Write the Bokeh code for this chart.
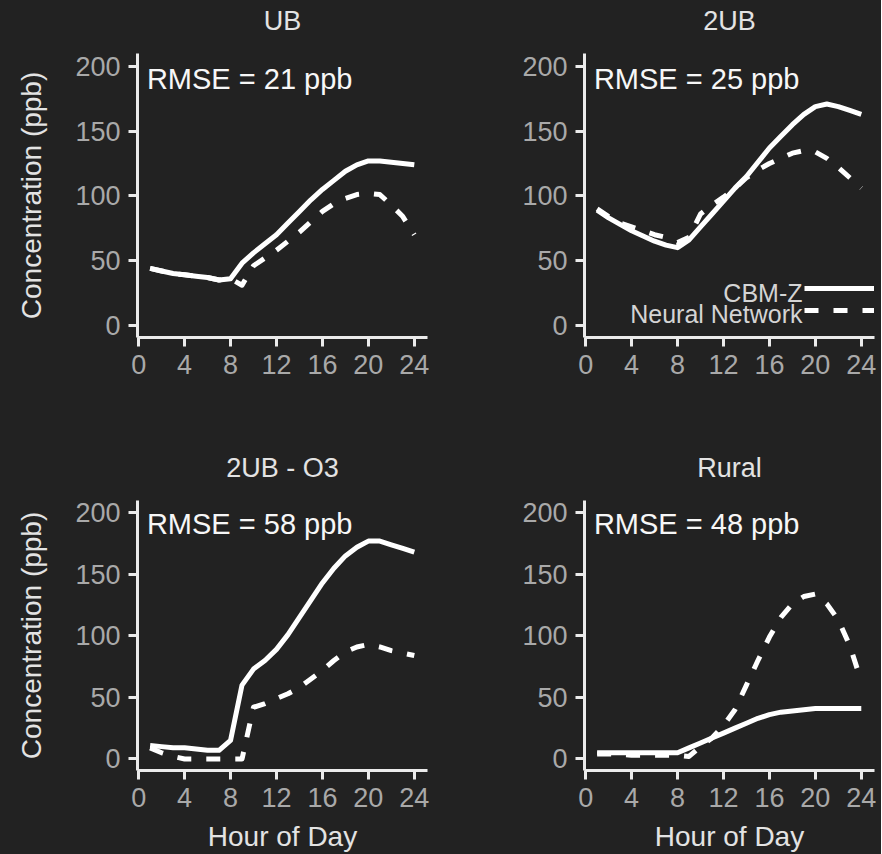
from bokeh.plotting import figure
from bokeh.layouts import column, row
from bokeh.models import FixedTicker, Label, Legend, LegendItem, LinearAxis, Range1d
from bokeh.embed import file_html
from bokeh.resources import INLINE

# ---------------- data ----------------
hours = list(range(1, 25))

panel_titles = ["UB", "2UB", "2UB - O3", "Rural"]
rmse_labels = ["RMSE = 21 ppb", "RMSE = 25 ppb", "RMSE = 58 ppb", "RMSE = 48 ppb"]
legend_labels = ["CBM-Z", "Neural Network"]
x_label = "Hour of Day"
y_label = "Concentration (ppb)"
x_ticks = [0, 4, 8, 12, 16, 20, 24]
y_ticks = [0, 50, 100, 150, 200]

ub_cbmz = [44, 42, 40, 39, 38, 37, 35, 36, 48, 56, 63, 70, 79, 88, 97, 105, 112, 119, 124, 127, 127, 126, 125, 124]
ub_nn = [44, 42, 40, 39, 38, 37, 35, 36, 31, 46, 52, 58, 65, 72, 80, 88, 94, 98, 101, 102, 101, 93, 84, 70]

ub2_cbmz = [89, 83, 78, 73, 69, 65, 62, 60, 66, 76, 86, 96, 106, 115, 126, 137, 146, 155, 163, 169, 171, 169, 166, 163]
ub2_nn = [90, 84, 79, 76, 73, 70, 68, 64, 68, 86, 93, 99, 106, 114, 120, 125, 129, 133, 135, 134, 129, 122, 114, 106]

ub2o3_cbmz = [11, 10, 9, 9, 8, 7, 7, 15, 60, 73, 80, 89, 101, 115, 129, 143, 155, 165, 172, 177, 177, 174, 171, 168]
ub2o3_nn = [9, 5, 2, 0, 0, 0, 0, 0, 0, 42, 45, 49, 53, 58, 65, 72, 80, 87, 91, 93, 91, 88, 86, 84]

rural_cbmz = [5, 5, 5, 5, 5, 5, 5, 5, 9, 13, 17, 21, 25, 29, 33, 36, 38, 39, 40, 41, 41, 41, 41, 41]
rural_nn = [4, 4, 4, 3, 3, 3, 3, 3, 2, 10, 17, 27, 40, 60, 80, 99, 115, 126, 132, 134, 126, 113, 92, 63]

# ---------------- style ----------------
BG = "#222222"
FONT = "Liberation Sans"
AXIS_COLOR = "#ebebeb"
TICK_LABEL_COLOR = "#a9a9a9"
TITLE_COLOR = "#e3e3e3"
LINE_COLOR = "#ffffff"
DASH = "14 15"


def make_panel(idx, cbmz, nn, width, height, border_left, border_right, border_bottom,
               text_shift, show_ylabel, show_xlabel, show_legend):
    p = figure(width=width, height=height,
               x_range=Range1d(-0.1, 25.15), y_range=Range1d(-9.4, 210),
               output_backend="svg", toolbar_location=None, tools="")
    p.min_border_left = border_left
    p.min_border_right = border_right
    p.min_border_top = 53
    p.min_border_bottom = border_bottom
    p.background_fill_color = None
    p.border_fill_color = None
    p.outline_line_color = None
    p.styles = {"background-color": BG}
    p.xgrid.visible = False
    p.ygrid.visible = False

    p.xaxis.ticker = FixedTicker(ticks=x_ticks)
    p.yaxis.ticker = FixedTicker(ticks=y_ticks)
    for ax in (p.xaxis[0], p.yaxis[0]):
        ax.axis_line_color = AXIS_COLOR
        ax.axis_line_width = 3
        ax.major_tick_line_color = AXIS_COLOR
        ax.major_tick_line_width = 3
        ax.major_tick_out = 9
        ax.major_tick_in = 0
        ax.minor_tick_line_color = None
        ax.major_label_text_font = FONT
        ax.major_label_text_font_size = "27px"
        ax.major_label_text_color = TICK_LABEL_COLOR
        ax.major_label_standoff = 8
        ax.axis_label_text_font = FONT
        ax.axis_label_text_font_size = "28px"
        ax.axis_label_text_font_style = "normal"
        ax.axis_label_text_color = TITLE_COLOR
    if show_ylabel:
        p.yaxis.axis_label = y_label
        p.yaxis.axis_label_standoff = 25
    if show_xlabel:
        p.xaxis.axis_label = x_label
        p.xaxis.axis_label_standoff = 11

    # panel title: label of a bare axis placed above the frame
    title_axis = LinearAxis(ticker=FixedTicker(ticks=[]), axis_label=panel_titles[idx])
    title_axis.axis_line_color = None
    title_axis.major_tick_line_color = None
    title_axis.minor_tick_line_color = None
    title_axis.major_tick_out = 0
    title_axis.major_tick_in = 0
    title_axis.major_label_standoff = 0
    title_axis.axis_label_standoff = 18
    title_axis.axis_label_text_font = FONT
    title_axis.axis_label_text_font_size = "27px"
    title_axis.axis_label_text_font_style = "normal"
    title_axis.axis_label_text_color = TITLE_COLOR
    p.add_layout(title_axis, "above")

    r1 = p.line(hours, cbmz, line_color=LINE_COLOR, line_width=5, line_join="round")
    r2 = p.line(hours, nn, line_color=LINE_COLOR, line_width=5, line_join="round",
                line_dash=DASH)

    p.add_layout(Label(x=0.72, y=183 + text_shift, text=rmse_labels[idx], text_font=FONT,
                       text_font_size="29px", text_color="#f7f7f7",
                       text_align="left", text_baseline="alphabetic"))

    if show_legend:
        legend = Legend(items=[LegendItem(label=" ", renderers=[r1]),
                               LegendItem(label=" ", renderers=[r2])],
                        location=(220, 16))
        legend.border_line_color = None
        legend.background_fill_alpha = 0
        legend.padding = 0
        legend.spacing = 0
        legend.margin = 0
        legend.glyph_width = 73
        legend.glyph_height = 22
        legend.label_width = 0
        legend.label_height = 22
        legend.label_standoff = 0
        legend.label_text_font_size = "1px"
        p.add_layout(legend)
        p.add_layout(Label(x=18.88, y=17.9 + text_shift, text=legend_labels[0], text_font=FONT,
                           text_font_size="25px", text_color="#d4d4d4",
                           text_align="right", text_baseline="alphabetic"))
        p.add_layout(Label(x=18.88, y=1.2 + text_shift, text=legend_labels[1], text_font=FONT,
                           text_font_size="25px", text_color="#d4d4d4",
                           text_align="right", text_baseline="alphabetic"))
    return p


f1 = make_panel(0, ub_cbmz, ub_nn, 455, 447, 137, 28, 110, 7.3, True, False, False)
f2 = make_panel(1, ub2_cbmz, ub2_nn, 426, 447, 129, 7, 110, 7.3, False, False, True)
f3 = make_panel(2, ub2o3_cbmz, ub2o3_nn, 455, 407, 137, 28, 82, 7.7, True, True, False)
f4 = make_panel(3, rural_cbmz, rural_nn, 426, 407, 129, 7, 82, 7.7, False, True, False)

layout = column(row(f1, f2), row(f3, f4))
layout.styles = {"background-color": BG}

html = file_html(layout, INLINE, title="Concentration by hour")
html = html.replace("<body>", '<body style="background-color:#222222;">', 1)
open("out.html", "w").write(html)
